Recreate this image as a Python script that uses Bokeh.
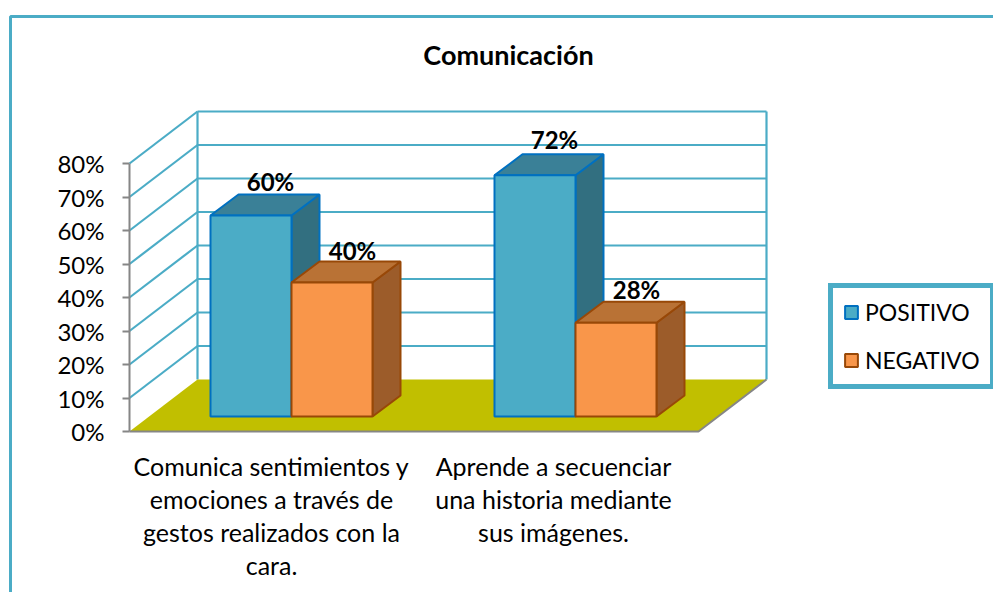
from bokeh.plotting import figure
from bokeh.models import Range1d, LinearAxis, FixedTicker, PrintfTickFormatter, Legend, LegendItem, Label
from bokeh.core.properties import value
from bokeh.embed import file_html
from bokeh.resources import INLINE

# data
categories = ["Comunica sentimientos y\nemociones a través de\ngestos realizados con la\ncara.",
              "Aprende a secuenciar\nuna historia mediante\nsus imágenes."]
positivo = [60, 72]
negativo = [40, 28]
series_names = ["POSITIVO", "NEGATIVO"]
ticks = [0, 10, 20, 30, 40, 50, 60, 70, 80]
title = "Comunicación"

# layout constants (page pixels; 1 % = PCT px)
W, H = 993, 592
PCT = 3.35
Y0 = 431            # page y of 0 %
AX = 129            # axis x
FONT = "Lato"
def py(page_y):     # page pixel -> data value
    return (Y0 - page_y) / PCT

TEAL, TEAL_EDGE, TEAL_TOP, TEAL_SIDE = "#4BACC6", "#0070C0", "#3A8097", "#326F80"
ORG, ORG_EDGE, ORG_TOP, ORG_SIDE = "#F9964A", "#984807", "#B97235", "#9C5C2A"
GRID = "#4BACC6"
FLOOR = "#C1BF00"
AXC = "#868686"

p = figure(width=W, height=H, output_backend="svg", toolbar_location=None,
           x_range=Range1d(0, W), y_range=Range1d(py(H), py(0)),
           x_axis_location=None, y_axis_location=None, min_border=0,
           background_fill_color="white", outline_line_color=None)
p.grid.visible = False

# outer chart border
p.line([10, 10, W], [py(H), py(16), py(16)], line_color=GRID, line_width=3)

# walls
DX, DY = 68, 52     # floor depth in px
dy = DY / PCT
top = ticks[-1]
xs_side = [[AX, AX + DX] for t in ticks[1:]]
ys_side = [[t, t + dy] for t in ticks[1:]]
p.multi_line(xs_side, ys_side, line_color=GRID, line_width=2.2)
RIGHT_BACK = 766
FRONT_RIGHT = RIGHT_BACK - DX
p.multi_line([[AX + DX, RIGHT_BACK] for t in ticks[1:]], [[t + dy, t + dy] for t in ticks[1:]],
             line_color=GRID, line_width=2.2)
p.multi_line([[AX + DX, AX + DX], [RIGHT_BACK, RIGHT_BACK]],
             [[dy, top + dy], [dy, top + dy]], line_color=GRID, line_width=2.2)

# floor
p.patch([AX, FRONT_RIGHT, RIGHT_BACK, AX + DX], [0, 0, dy, dy], fill_color=FLOOR, line_color=None)
p.line([AX, FRONT_RIGHT, RIGHT_BACK], [0, 0, dy], line_color=AXC, line_width=2)

# bars
BASE = py(416)
BW = 81
BX = [210, 494]
OX, OY = 28, 21 / PCT

def bar3d(left, val, fill, edge, topc, side):
    right = left + BW
    yt = BASE + val
    p.patch([right, right + OX, right + OX, right], [BASE, BASE + OY, yt + OY, yt],
            fill_color=side, line_color=edge, line_width=2)
    p.patch([left, left + OX, right + OX, right], [yt, yt + OY, yt + OY, yt],
            fill_color=topc, line_color=edge, line_width=2)
    return p.quad(left=left, right=right, bottom=BASE, top=yt, fill_color=fill, line_color=edge, line_width=2)

r_pos = r_neg = None
for i in range(2):
    r_pos = bar3d(BX[i], positivo[i], TEAL, TEAL_EDGE, TEAL_TOP, TEAL_SIDE)
    r_neg = bar3d(BX[i] + BW, negativo[i], ORG, ORG_EDGE, ORG_TOP, ORG_SIDE)

# data labels
POS_LIFT = [34, 36]
NEG_LIFT = [32, 33]
lbl_x, lbl_y, lbl_t = [], [], []
for i in range(2):
    lbl_x += [BX[i] + 60, BX[i] + BW + 61]
    lbl_y += [BASE + positivo[i] + POS_LIFT[i] / PCT, BASE + negativo[i] + NEG_LIFT[i] / PCT]
    lbl_t += [f"{positivo[i]}%", f"{negativo[i]}%"]
p.text(lbl_x, lbl_y, text=lbl_t, text_font=value(FONT), text_font_style="bold",
       text_font_size="24px", text_align="center", text_baseline="middle", text_color="black")

# category labels
p.text([271, 553], [py(450), py(450)], text=categories, text_font=value(FONT), text_font_size="25px",
       text_align="center", text_baseline="top", text_color="black", text_line_height=1.1)

# value axis
ax = LinearAxis(fixed_location=AX, ticker=FixedTicker(ticks=ticks),
                formatter=PrintfTickFormatter(format="%d%%"), bounds=(0, 80))
ax.axis_line_color = AXC
ax.axis_line_width = 2
ax.major_tick_line_color = AXC
ax.major_tick_line_width = 2
ax.major_tick_out = 7
ax.major_tick_in = 0
ax.minor_tick_out = 0
ax.minor_tick_in = 0
ax.major_label_text_font = FONT
ax.major_label_text_font_size = "24px"
ax.major_label_text_color = "black"
ax.major_label_standoff = 18
p.add_layout(ax, "left")

# title
p.add_layout(Label(x=508, y=py(54), text=title, text_font=FONT, text_font_style="bold",
                   text_font_size="27px", text_align="center", text_baseline="middle", text_color="black"))

# legend
legend = Legend(items=[LegendItem(label=series_names[0], renderers=[r_pos]),
                       LegendItem(label=series_names[1], renderers=[r_neg])],
                location=(828, 203), orientation="vertical",
                border_line_color=TEAL, border_line_width=5, border_line_alpha=1.0,
                background_fill_color="white",
                background_fill_alpha=1.0, label_text_font=FONT, label_text_font_size="23px",
                label_text_color="black", glyph_width=16, glyph_height=16, label_standoff=6,
                padding=10, spacing=20, margin=0)
p.add_layout(legend)

open("out.html", "w").write(file_html(p, INLINE))
